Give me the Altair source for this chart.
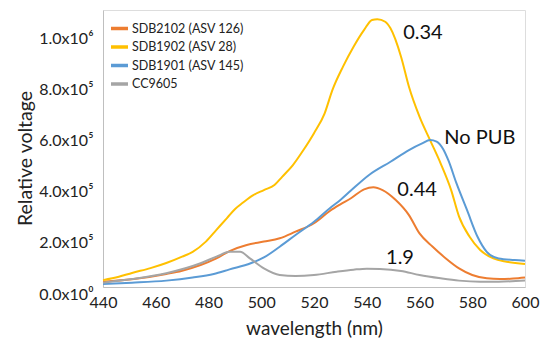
import altair as alt
import pandas as pd

FONT = "Lato"

series_names = ["SDB2102 (ASV 126)", "SDB1902 (ASV 28)", "SDB1901 (ASV 145)", "CC9605"]
series_colors = ["#ED7D31", "#FFC000", "#5B9BD5", "#A5A5A5"]

# SDB2102 (orange), values in units of 1e5
wl_2102 = [440, 451, 464, 470, 477, 483, 488, 494.5, 501, 507, 513, 520, 526, 530, 534, 539, 542.5, 546, 551, 556, 560, 565, 570, 575, 580, 585.5, 590.5, 595.6, 600]
v_2102 = [0.21, 0.30, 0.51, 0.64, 0.86, 1.12, 1.41, 1.65, 1.78, 1.91, 2.17, 2.50, 2.98, 3.24, 3.48, 3.83, 3.91, 3.80, 3.41, 2.82, 2.10, 1.58, 1.12, 0.73, 0.47, 0.34, 0.31, 0.33, 0.37]

# SDB1902 (yellow)
wl_1902 = [440, 446, 451, 458, 464, 470, 474, 479, 483, 487, 490, 493, 497, 501, 505, 508, 512, 516, 520, 524, 527, 531, 535, 539, 542, 544, 547, 549, 553, 556, 560, 564, 568, 572, 575, 579, 583, 588, 593, 600]
v_1902 = [0.27, 0.40, 0.55, 0.74, 0.94, 1.19, 1.38, 1.78, 2.24, 2.70, 3.05, 3.30, 3.60, 3.80, 4.00, 4.33, 4.78, 5.37, 6.03, 6.80, 7.73, 8.64, 9.42, 10.08, 10.47, 10.50, 10.40, 10.14, 9.03, 7.85, 6.68, 5.76, 4.85, 3.80, 2.76, 1.97, 1.45, 1.12, 0.99, 0.90]

# SDB1901 (blue)
wl_1901 = [440, 451, 464, 474, 482, 488, 496, 501, 507, 513, 520, 526, 530, 534, 541, 549, 556, 561, 564, 566.5, 569, 571, 574, 578, 582, 585.5, 590, 596, 600]
v_1901 = [0.12, 0.17, 0.25, 0.37, 0.51, 0.69, 0.93, 1.16, 1.58, 2.04, 2.56, 3.09, 3.41, 3.78, 4.40, 4.91, 5.37, 5.63, 5.76, 5.70, 5.40, 4.95, 4.07, 3.02, 1.97, 1.38, 1.12, 1.06, 1.03]

# CC9605 (gray)
wl_9605 = [440, 451, 464, 477, 483, 488, 492, 495.7, 501, 507, 513, 520, 528.6, 535, 540, 545, 553, 560, 568, 575, 583, 590, 600]
v_9605 = [0.17, 0.31, 0.54, 0.93, 1.19, 1.38, 1.38, 1.12, 0.73, 0.47, 0.43, 0.47, 0.60, 0.68, 0.72, 0.71, 0.63, 0.47, 0.34, 0.25, 0.21, 0.21, 0.25]

UNIT = 1e5

# annotations
ann_text = ["0.34", "No PUB", "0.44", "1.9"]
ann_wl = [561.3, 582.9, 559.1, 552.6]
ann_val = [9.96, 5.84, 3.80, 1.14]

# axis ticks
x_ticks = [440, 460, 480, 500, 520, 540, 560, 580, 600]
y_ticks = [0, 2e5, 4e5, 6e5, 8e5, 1e6]
y_tick_labels = ["0.0x10\u2070", "2.0x10\u2075", "4.0x10\u2075", "6.0x10\u2075", "8.0x10\u2075", "1.0x10\u2076"]

rows = []
for name, wls, vals in zip(series_names, [wl_2102, wl_1902, wl_1901, wl_9605], [v_2102, v_1902, v_1901, v_9605]):
    for i, (w, v) in enumerate(zip(wls, vals)):
        rows.append({"series": name, "wl": w, "val": v * UNIT, "order": i})
df = pd.DataFrame(rows)

ann_df = pd.DataFrame({"text": ann_text, "wl": ann_wl, "val": [v * UNIT for v in ann_val]})

label_expr = " : ".join(
    f"datum.value == {v} ? '{l}'" for v, l in zip(y_ticks, y_tick_labels)
) + " : ''"

xscale = alt.Scale(domain=[440, 600], nice=False, zero=False)
yscale = alt.Scale(domain=[0, 1.086e6], nice=False)

lines = alt.Chart(df).mark_line(strokeWidth=2, interpolate="monotone").encode(
    x=alt.X("wl:Q", scale=xscale,
            axis=alt.Axis(values=x_ticks, title="wavelength (nm)", grid=False, ticks=False, labelFlush=False,
                          labelFont=FONT, labelFontSize=16, labelColor="#222", labelPadding=7,
                          titleFont=FONT, titleFontSize=19, titleFontWeight="normal", titleColor="#222",
                          titleY=47, titleBaseline="alphabetic",
                          domainColor="#BFBFBF")),
    y=alt.Y("val:Q", scale=yscale,
            axis=alt.Axis(values=y_ticks, labelExpr=label_expr, title="Relative voltage", grid=False, ticks=False,
                          labelFlush=False,
                          labelFont=FONT, labelFontSize=16, labelColor="#222", labelPadding=10,
                          labelBaseline="middle", labelOffset=7,
                          titleFont=FONT, titleFontSize=19.5, titleFontWeight="normal", titleColor="#222",
                          titleX=-78, titleY=148, titleBaseline="middle", titleAlign="center",
                          domainColor="#BFBFBF")),
    color=alt.Color("series:N",
                    scale=alt.Scale(domain=series_names, range=series_colors),
                    legend=alt.Legend(title=None, orient="none", legendX=6, legendY=8,
                                      symbolType="stroke", symbolStrokeWidth=3.5, symbolSize=289,
                                      labelFont=FONT, labelFontSize=12.5, labelColor="#222",
                                      rowPadding=0.5, padding=0, labelOffset=2)),
    order="order:Q",
    detail="series:N",
)

texts = alt.Chart(ann_df).mark_text(font=FONT, fontSize=20, color="#111", align="center", baseline="middle").encode(
    x=alt.X("wl:Q", scale=xscale),
    y=alt.Y("val:Q", scale=yscale),
    text="text:N",
)

chart = alt.layer(lines, texts).properties(
    width=422, height=277,
    padding={"left": 103, "top": 10, "right": 23, "bottom": 52},
    autosize=alt.AutoSizeParams(type="none"),
).configure_view(stroke="#D9D9D9", strokeWidth=1.5).configure(background="white")

chart.save("out.html", embed_options={"renderer": "svg", "actions": False})
